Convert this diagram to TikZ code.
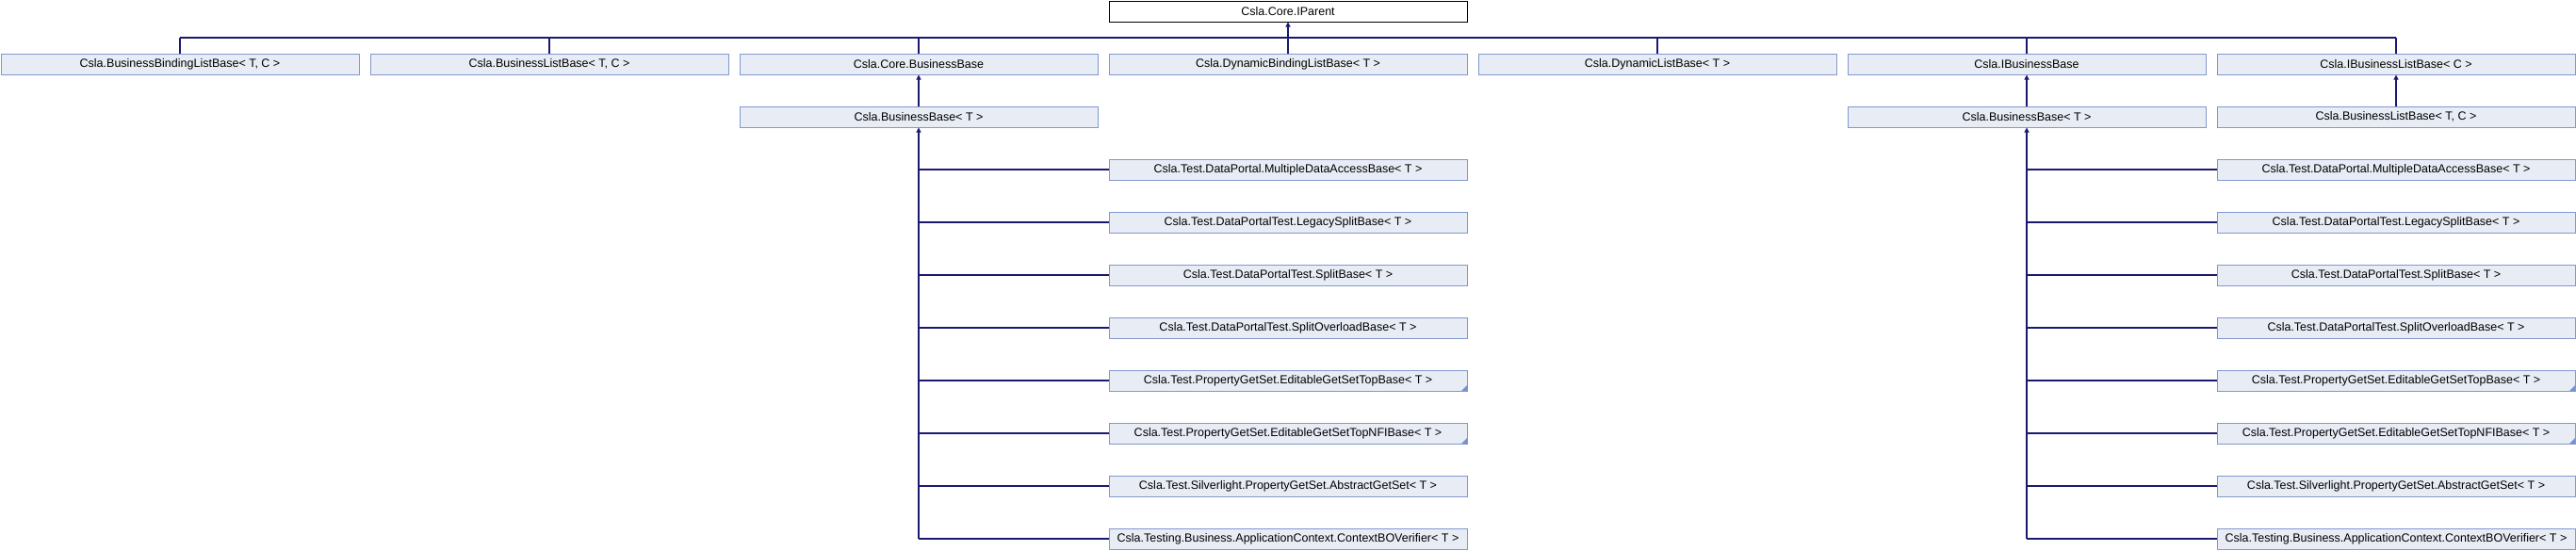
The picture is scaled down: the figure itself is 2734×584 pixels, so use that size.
\documentclass[tikz,border=0pt]{standalone}
\usepackage{fontspec}
\setmainfont{Liberation Sans}
\usetikzlibrary{arrows.meta}
\definecolor{boxfill}{RGB}{232,236,245}
\definecolor{boxline}{RGB}{130,152,206}
\definecolor{edgecol}{RGB}{25,25,112}
\definecolor{markcol}{RGB}{120,144,204}
\tikzset{
  cls/.style={draw=boxline, fill=boxfill, line width=1pt, rectangle, inner sep=0pt,
    minimum width=380pt, minimum height=22pt, anchor=north west,
    font=\fontsize{12.5}{15}\selectfont, text=black},
  rootcls/.style={cls, draw=black, fill=white},
  marked/.style={path picture={\fill[markcol] (path picture bounding box.south east) -- ++(-6,0) -- ++(6,-6) -- cycle;}},
  edge/.style={draw=edgecol, line width=1.1pt},
  inh/.style={edge, {Triangle[length=5pt,width=5pt]}-},
}
\begin{document}
\begin{tikzpicture}[x=1pt,y=-1pt]
\useasboundingbox (0,0) rectangle (2734,584);
% root
\node[rootcls] (ip) at (1176.5,0.5) {Csla.Core.IParent};
% row 1
\node[cls] (bbl)  at (0.5,56.5)    {Csla.BusinessBindingListBase< T, C >};
\node[cls] (blb)  at (392.5,56.5)  {Csla.BusinessListBase< T, C >};
\node[cls] (cbb)  at (784.5,56.5)  {Csla.Core.BusinessBase};
\node[cls] (dbl)  at (1176.5,56.5) {Csla.DynamicBindingListBase< T >};
\node[cls] (dlb)  at (1568.5,56.5) {Csla.DynamicListBase< T >};
\node[cls] (ibb)  at (1960.5,56.5) {Csla.IBusinessBase};
\node[cls] (iblb) at (2352.5,56.5) {Csla.IBusinessListBase< C >};
% row 2
\node[cls] (bbL)  at (784.5,112.5)  {Csla.BusinessBase< T >};
\node[cls] (bbR)  at (1960.5,112.5) {Csla.BusinessBase< T >};
\node[cls] (blbR) at (2352.5,112.5) {Csla.BusinessListBase< T, C >};
% left column
\node[cls] (l3)  at (1176.5,168.5) {Csla.Test.DataPortal.MultipleDataAccessBase< T >};
\node[cls] (l4)  at (1176.5,224.5) {Csla.Test.DataPortalTest.LegacySplitBase< T >};
\node[cls] (l5)  at (1176.5,280.5) {Csla.Test.DataPortalTest.SplitBase< T >};
\node[cls] (l6)  at (1176.5,336.5) {Csla.Test.DataPortalTest.SplitOverloadBase< T >};
\node[cls,marked] (l7)  at (1176.5,392.5) {Csla.Test.PropertyGetSet.EditableGetSetTopBase< T >};
\node[cls,marked] (l8)  at (1176.5,448.5) {Csla.Test.PropertyGetSet.EditableGetSetTopNFIBase< T >};
\node[cls] (l9)  at (1176.5,504.5) {Csla.Test.Silverlight.PropertyGetSet.AbstractGetSet< T >};
\node[cls] (l10) at (1176.5,560.5) {Csla.Testing.Business.ApplicationContext.ContextBOVerifier< T >};
% right column
\node[cls] (r3)  at (2352.5,168.5) {Csla.Test.DataPortal.MultipleDataAccessBase< T >};
\node[cls] (r4)  at (2352.5,224.5) {Csla.Test.DataPortalTest.LegacySplitBase< T >};
\node[cls] (r5)  at (2352.5,280.5) {Csla.Test.DataPortalTest.SplitBase< T >};
\node[cls] (r6)  at (2352.5,336.5) {Csla.Test.DataPortalTest.SplitOverloadBase< T >};
\node[cls,marked] (r7)  at (2352.5,392.5) {Csla.Test.PropertyGetSet.EditableGetSetTopBase< T >};
\node[cls,marked] (r8)  at (2352.5,448.5) {Csla.Test.PropertyGetSet.EditableGetSetTopNFIBase< T >};
\node[cls] (r9)  at (2352.5,504.5) {Csla.Test.Silverlight.PropertyGetSet.AbstractGetSet< T >};
\node[cls] (r10) at (2352.5,560.5) {Csla.Testing.Business.ApplicationContext.ContextBOVerifier< T >};
% bus to root
\coordinate (bus) at (0,40);
\draw[inh] (ip.south) -- (dbl.north);
\draw[edge] (bbl.north |- bus) -- (iblb.north |- bus);
\foreach \n in {bbl,blb,cbb,dlb,ibb,iblb} {
  \draw[edge] (\n.north |- bus) -- (\n.north);
}
% row 2 arrows
\draw[inh] (cbb.south) -- (bbL.north);
\draw[inh] (ibb.south) -- (bbR.north);
\draw[inh] (iblb.south) -- (blbR.north);
% trunks
\draw[inh] (bbL.south) -- (bbL.south |- l10.west);
\draw[inh] (bbR.south) -- (bbR.south |- r10.west);
\foreach \k in {3,...,10} {
  \draw[edge] (bbL.south |- l\k.west) -- (l\k.west);
  \draw[edge] (bbR.south |- r\k.west) -- (r\k.west);
}
\end{tikzpicture}
\end{document}
